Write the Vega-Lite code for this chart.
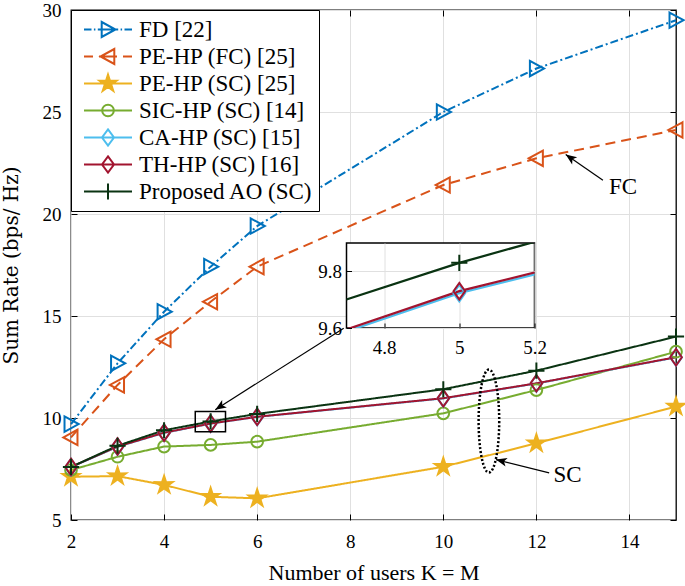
{
  "$schema": "https://vega.github.io/schema/vega-lite/v6.json",
  "background": "white",
  "padding": {"left": 0, "top": 0, "right": 0, "bottom": 0},
  "bounds": "flush",
  "align": "none",
  "spacing": -329.5,
  "datasets": {
    "series": [
      {"s": "FD [22]", "x": 2, "y": 9.7}, {"s": "FD [22]", "x": 3, "y": 12.68}, {"s": "FD [22]", "x": 4, "y": 15.21}, {"s": "FD [22]", "x": 5, "y": 17.42}, {"s": "FD [22]", "x": 6, "y": 19.41}, {"s": "FD [22]", "x": 10, "y": 25.0}, {"s": "FD [22]", "x": 12, "y": 27.13}, {"s": "FD [22]", "x": 15, "y": 29.5},
      {"s": "PE-HP (FC) [25]", "x": 2, "y": 9.05}, {"s": "PE-HP (FC) [25]", "x": 3, "y": 11.62}, {"s": "PE-HP (FC) [25]", "x": 4, "y": 13.86}, {"s": "PE-HP (FC) [25]", "x": 5, "y": 15.7}, {"s": "PE-HP (FC) [25]", "x": 6, "y": 17.42}, {"s": "PE-HP (FC) [25]", "x": 10, "y": 21.42}, {"s": "PE-HP (FC) [25]", "x": 12, "y": 22.73}, {"s": "PE-HP (FC) [25]", "x": 15, "y": 24.12},
      {"s": "PE-HP (SC) [25]", "x": 2, "y": 7.12}, {"s": "PE-HP (SC) [25]", "x": 3, "y": 7.15}, {"s": "PE-HP (SC) [25]", "x": 4, "y": 6.72}, {"s": "PE-HP (SC) [25]", "x": 5, "y": 6.14}, {"s": "PE-HP (SC) [25]", "x": 6, "y": 6.06}, {"s": "PE-HP (SC) [25]", "x": 10, "y": 7.61}, {"s": "PE-HP (SC) [25]", "x": 12, "y": 8.76}, {"s": "PE-HP (SC) [25]", "x": 15, "y": 10.56},
      {"s": "SIC-HP (SC) [14]", "x": 2, "y": 7.45}, {"s": "SIC-HP (SC) [14]", "x": 3, "y": 8.1}, {"s": "SIC-HP (SC) [14]", "x": 4, "y": 8.6}, {"s": "SIC-HP (SC) [14]", "x": 5, "y": 8.68}, {"s": "SIC-HP (SC) [14]", "x": 6, "y": 8.84}, {"s": "SIC-HP (SC) [14]", "x": 10, "y": 10.23}, {"s": "SIC-HP (SC) [14]", "x": 12, "y": 11.37}, {"s": "SIC-HP (SC) [14]", "x": 15, "y": 13.25},
      {"s": "CA-HP (SC) [15]", "x": 2, "y": 7.59}, {"s": "CA-HP (SC) [15]", "x": 3, "y": 8.59}, {"s": "CA-HP (SC) [15]", "x": 4, "y": 9.272}, {"s": "CA-HP (SC) [15]", "x": 5, "y": 9.723}, {"s": "CA-HP (SC) [15]", "x": 6, "y": 10.053}, {"s": "CA-HP (SC) [15]", "x": 10, "y": 10.96}, {"s": "CA-HP (SC) [15]", "x": 12, "y": 11.69}, {"s": "CA-HP (SC) [15]", "x": 15, "y": 12.97},
      {"s": "TH-HP (SC) [16]", "x": 2, "y": 7.6}, {"s": "TH-HP (SC) [16]", "x": 3, "y": 8.6}, {"s": "TH-HP (SC) [16]", "x": 4, "y": 9.28}, {"s": "TH-HP (SC) [16]", "x": 5, "y": 9.73}, {"s": "TH-HP (SC) [16]", "x": 6, "y": 10.06}, {"s": "TH-HP (SC) [16]", "x": 10, "y": 10.97}, {"s": "TH-HP (SC) [16]", "x": 12, "y": 11.7}, {"s": "TH-HP (SC) [16]", "x": 15, "y": 12.98},
      {"s": "Proposed AO (SC)", "x": 2, "y": 7.6}, {"s": "Proposed AO (SC)", "x": 3, "y": 8.64}, {"s": "Proposed AO (SC)", "x": 4, "y": 9.4}, {"s": "Proposed AO (SC)", "x": 5, "y": 9.83}, {"s": "Proposed AO (SC)", "x": 6, "y": 10.2}, {"s": "Proposed AO (SC)", "x": 10, "y": 11.41}, {"s": "Proposed AO (SC)", "x": 12, "y": 12.32}, {"s": "Proposed AO (SC)", "x": 15, "y": 13.99}
    ],
    "arrows": [
      {"x": 13.43, "y": 21.65, "x2": 12.63, "y2": 22.92, "a": 305.3},
      {"x": 12.275, "y": 7.31, "x2": 11.13, "y2": 7.96, "a": 284},
      {"x": 7.86, "y": 14.4, "x2": 5.1, "y2": 10.41, "a": 237.4}
    ],
    "labels": [
      {"x": 13.86, "y": 21.33, "t": "FC"},
      {"x": 12.67, "y": 7.22, "t": "SC"}
    ],
    "ellipse": [{"x": 10.98, "y": 9.85}],
    "box": [{"x": 4.67, "x2": 5.32, "y": 9.32, "y2": 10.32}]
  },
  "hconcat": [
    {
      "width": 605,
      "height": 510,
      "view": {"stroke": "black", "strokeWidth": 1.3, "fill": "white"},
      "layer": [
        {
          "data": {"name": "series"},
          "mark": {"type": "line", "strokeWidth": 2},
          "encoding": {
            "x": {"field": "x", "type": "quantitative", "scale": {"domain": [2, 15], "nice": false, "zero": false},
              "axis": {"orient": "bottom", "values": [2, 4, 6, 8, 10, 12, 14], "grid": true, "tickSize": -6, "labelFontSize": 19, "labelPadding": 18, "format": "d", "title": "Number of users K = M", "titleFont": "Liberation Serif", "titleFontSize": 22, "titlePadding": 11}},
            "y": {"field": "y", "type": "quantitative", "scale": {"domain": [5, 30], "nice": false, "zero": false},
              "axis": {"orient": "left", "values": [5, 10, 15, 20, 25, 30], "grid": true, "tickSize": -6, "labelFontSize": 19, "labelPadding": 16, "format": "d", "title": "Sum Rate (bps/ Hz)", "titleFont": "DejaVu Serif", "titleFontSize": 20, "titlePadding": 21}},
            "color": {"field": "s", "type": "nominal", "legend": null,
              "scale": {"domain": ["FD [22]", "PE-HP (FC) [25]", "PE-HP (SC) [25]", "SIC-HP (SC) [14]", "CA-HP (SC) [15]", "TH-HP (SC) [16]", "Proposed AO (SC)"],
                "range": ["#0072BD", "#D95319", "#EDB120", "#77AC30", "#4DBEEE", "#A2142F", "#0A3312"]}},
            "strokeDash": {"field": "s", "type": "nominal", "legend": null,
              "scale": {"domain": ["FD [22]", "PE-HP (FC) [25]", "PE-HP (SC) [25]", "SIC-HP (SC) [14]", "CA-HP (SC) [15]", "TH-HP (SC) [16]", "Proposed AO (SC)"],
                "range": [[8, 3, 2, 3], [10, 6], [1, 0], [1, 0], [1, 0], [1, 0], [1, 0]]}}
          }
        },
        {
          "data": {"name": "series"},
          "mark": {"type": "point", "size": 324, "strokeWidth": 2, "opacity": 1},
          "encoding": {
            "x": {"field": "x", "type": "quantitative", "axis": {"orient": "top", "values": [2, 4, 6, 8, 10, 12, 14], "grid": false, "labels": false, "tickSize": -6, "title": null}},
            "y": {"field": "y", "type": "quantitative", "axis": {"orient": "right", "values": [5, 10, 15, 20, 25, 30], "grid": false, "labels": false, "tickSize": -6, "title": null}},
            "stroke": {"field": "s", "type": "nominal", "legend": null,
              "scale": {"domain": ["FD [22]", "PE-HP (FC) [25]", "PE-HP (SC) [25]", "SIC-HP (SC) [14]", "CA-HP (SC) [15]", "TH-HP (SC) [16]", "Proposed AO (SC)"],
                "range": ["#0072BD", "#D95319", "#EDB120", "#77AC30", "#4DBEEE", "#A2142F", "#0A3312"]}},
            "fill": {"field": "s", "type": "nominal", "legend": null,
              "scale": {"domain": ["FD [22]", "PE-HP (FC) [25]", "PE-HP (SC) [25]", "SIC-HP (SC) [14]", "CA-HP (SC) [15]", "TH-HP (SC) [16]", "Proposed AO (SC)"],
                "range": ["transparent", "transparent", "#EDB120", "transparent", "transparent", "transparent", "transparent"]}},
            "shape": {"field": "s", "type": "nominal", "legend": null,
              "scale": {"domain": ["FD [22]", "PE-HP (FC) [25]", "PE-HP (SC) [25]", "SIC-HP (SC) [14]", "CA-HP (SC) [15]", "TH-HP (SC) [16]", "Proposed AO (SC)"],
                "range": [
                  "M-0.72,-0.85L0.85,0L-0.72,0.85Z",
                  "M0.72,-0.85L-0.85,0L0.72,0.85Z",
                  "M0,-1L0.223,-0.307L0.951,-0.309L0.361,0.117L0.588,0.809L0,0.38L-0.588,0.809L-0.361,0.117L-0.951,-0.309L-0.223,-0.307Z",
                  "M-0.65,0A0.65,0.65,0,1,1,0.65,0A0.65,0.65,0,1,1,-0.65,0Z",
                  "M0,-0.92L0.65,0L0,0.92L-0.65,0Z",
                  "M0,-0.92L0.65,0L0,0.92L-0.65,0Z",
                  "M-0.9,0L0.9,0M0,-0.9L0,0.9"
                ]}}
          }
        },
        {
          "data": {"name": "series"},
          "mark": {"type": "point", "size": 1, "strokeWidth": 2, "opacity": 0},
          "encoding": {
            "x": {"field": "x", "type": "quantitative", "axis": null},
            "y": {"field": "y", "type": "quantitative", "axis": null},
            "stroke": {"field": "s", "type": "nominal",
              "legend": {"title": null, "orient": "top-left", "offset": 0, "padding": 6, "strokeColor": "black", "fillColor": "white", "labelFont": "Liberation Serif", "labelFontSize": 23, "labelColor": "black", "symbolSize": 3600, "clipHeight": 27, "rowPadding": 0, "labelOffset": 0, "symbolStrokeWidth": 2, "symbolOpacity": 1, "symbolFillColor": "transparent", "labelLimit": 400},
              "scale": {"domain": ["FD [22]", "PE-HP (FC) [25]", "PE-HP (SC) [25]", "SIC-HP (SC) [14]", "CA-HP (SC) [15]", "TH-HP (SC) [16]", "Proposed AO (SC)"],
                "range": ["#0072BD", "#D95319", "#EDB120", "#77AC30", "#4DBEEE", "#A2142F", "#0A3312"]}},
            "fill": {"field": "s", "type": "nominal",
              "legend": {"title": null, "orient": "top-left", "offset": 0, "padding": 6, "strokeColor": "black", "fillColor": "white", "labelFont": "Liberation Serif", "labelFontSize": 23, "labelColor": "black", "symbolSize": 3600, "clipHeight": 27, "rowPadding": 0, "labelOffset": 0, "symbolStrokeWidth": 2, "symbolOpacity": 1, "symbolFillColor": "transparent", "labelLimit": 400},
              "scale": {"domain": ["FD [22]", "PE-HP (FC) [25]", "PE-HP (SC) [25]", "SIC-HP (SC) [14]", "CA-HP (SC) [15]", "TH-HP (SC) [16]", "Proposed AO (SC)"],
                "range": ["transparent", "transparent", "#EDB120", "transparent", "transparent", "transparent", "transparent"]}},
            "shape": {"field": "s", "type": "nominal",
              "legend": {"title": null, "orient": "top-left", "offset": 0, "padding": 6, "strokeColor": "black", "fillColor": "white", "labelFont": "Liberation Serif", "labelFontSize": 23, "labelColor": "black", "symbolSize": 3600, "clipHeight": 27, "rowPadding": 0, "labelOffset": 0, "symbolStrokeWidth": 2, "symbolOpacity": 1, "symbolFillColor": "transparent", "labelLimit": 400},
              "scale": {"domain": ["FD [22]", "PE-HP (FC) [25]", "PE-HP (SC) [25]", "SIC-HP (SC) [14]", "CA-HP (SC) [15]", "TH-HP (SC) [16]", "Proposed AO (SC)"],
                "range": [
                  "M-0.8,0L-0.55,0M-0.47,0L-0.42,0M-0.34,0L0.34,0M0.42,0L0.47,0M0.55,0L0.8,0M-0.21,-0.25L0.25,0L-0.21,0.25Z",
                  "M-0.8,0L-0.5,0M-0.3,0L0.3,0M0.5,0L0.8,0M0.21,-0.25L-0.25,0L0.21,0.25Z",
                  "M-0.8,0L0.8,0M0,-0.3L0.067,-0.092L0.285,-0.093L0.108,0.035L0.176,0.243L0,0.114L-0.176,0.243L-0.108,0.035L-0.285,-0.093L-0.067,-0.092Z",
                  "M-0.8,0L0.8,0M-0.195,0A0.195,0.195,0,1,1,0.195,0A0.195,0.195,0,1,1,-0.195,0Z",
                  "M-0.8,0L0.8,0M0,-0.27L0.2,0L0,0.27L-0.2,0Z",
                  "M-0.8,0L0.8,0M0,-0.27L0.2,0L0,0.27L-0.2,0Z",
                  "M-0.8,0L0.8,0M0,-0.27L0,0.27"
                ]}}
          }
        },
        {
          "data": {"name": "arrows"},
          "mark": {"type": "rule", "color": "black", "strokeWidth": 1.2},
          "encoding": {
            "x": {"field": "x", "type": "quantitative", "axis": null},
            "y": {"field": "y", "type": "quantitative", "axis": null},
            "x2": {"field": "x2"},
            "y2": {"field": "y2"}
          }
        },
        {
          "data": {"name": "arrows"},
          "mark": {"type": "point", "shape": "M0,0L0.4,1L0,0.75L-0.4,1Z", "size": 484, "filled": true, "color": "black", "opacity": 1, "strokeWidth": 0},
          "encoding": {
            "x": {"field": "x2", "type": "quantitative", "axis": null},
            "y": {"field": "y2", "type": "quantitative", "axis": null},
            "angle": {"field": "a", "type": "quantitative", "scale": null}
          }
        },
        {
          "data": {"name": "labels"},
          "mark": {"type": "text", "font": "Liberation Serif", "fontSize": 23, "color": "black", "align": "center", "baseline": "middle"},
          "encoding": {
            "x": {"field": "x", "type": "quantitative", "axis": null},
            "y": {"field": "y", "type": "quantitative", "axis": null},
            "text": {"field": "t"}
          }
        },
        {
          "data": {"name": "ellipse"},
          "mark": {"type": "point", "shape": "M0,-1A0.2,1,0,1,0,0,1A0.2,1,0,1,0,0,-1Z", "size": 10609, "filled": false, "color": "black", "opacity": 1, "strokeWidth": 2.5, "strokeDash": [2, 2]},
          "encoding": {
            "x": {"field": "x", "type": "quantitative", "axis": null},
            "y": {"field": "y", "type": "quantitative", "axis": null}
          }
        },
        {
          "data": {"name": "box"},
          "mark": {"type": "rect", "fill": "transparent", "stroke": "black", "strokeWidth": 1.5},
          "encoding": {
            "x": {"field": "x", "type": "quantitative", "axis": null},
            "x2": {"field": "x2"},
            "y": {"field": "y", "type": "quantitative", "axis": null},
            "y2": {"field": "y2"}
          }
        }
      ],
      "resolve": {
        "scale": {"stroke": "independent", "fill": "independent", "shape": "independent"},
        "axis": {"x": "independent", "y": "independent"}
      }
    },
    {
      "bounds": "flush",
      "spacing": 0,
      "vconcat": [
        {
          "width": 188,
          "height": 233,
          "view": {"stroke": null, "fill": null},
          "data": {"values": [{}]},
          "mark": {"type": "point", "opacity": 0},
          "encoding": {}
        },
        {
          "width": 188,
          "height": 85,
          "view": {"stroke": "black", "strokeWidth": 1.5, "fill": "white"},
          "data": {"name": "series"},
          "transform": [{"filter": {"field": "s", "oneOf": ["CA-HP (SC) [15]", "TH-HP (SC) [16]", "Proposed AO (SC)"]}}],
          "layer": [
            {
              "mark": {"type": "line", "strokeWidth": 2.2, "clip": true},
              "encoding": {
                "x": {"field": "x", "type": "quantitative", "scale": {"domain": [4.7, 5.2], "nice": false, "zero": false},
                  "axis": {"values": [4.8, 5, 5.2], "grid": true, "tickSize": -5, "labelFontSize": 19, "labelPadding": 15, "format": "~g", "title": null}},
                "y": {"field": "y", "type": "quantitative", "scale": {"domain": [9.6, 9.9], "nice": false, "zero": false},
                  "axis": {"values": [9.6, 9.8], "grid": true, "tickSize": -5, "labelFontSize": 19, "labelPadding": 10, "format": "~g", "title": null}},
                "color": {"field": "s", "type": "nominal", "legend": null,
                  "scale": {"domain": ["CA-HP (SC) [15]", "TH-HP (SC) [16]", "Proposed AO (SC)"], "range": ["#4DBEEE", "#A2142F", "#0A3312"]}}
              }
            },
            {
              "mark": {"type": "point", "size": 324, "strokeWidth": 2, "opacity": 1, "filled": false, "clip": true},
              "encoding": {
                "x": {"field": "x", "type": "quantitative"},
                "y": {"field": "y", "type": "quantitative"},
                "color": {"field": "s", "type": "nominal", "legend": null},
                "shape": {"field": "s", "type": "nominal", "legend": null,
                  "scale": {"domain": ["CA-HP (SC) [15]", "TH-HP (SC) [16]", "Proposed AO (SC)"],
                    "range": ["M0,-0.92L0.65,0L0,0.92L-0.65,0Z", "M0,-0.92L0.65,0L0,0.92L-0.65,0Z", "M-0.9,0L0.9,0M0,-0.9L0,0.9"]}}
              }
            }
          ]
        }
      ]
    }
  ],
  "config": {
    "font": "Liberation Serif",
    "axis": {"labelFont": "Liberation Serif", "labelColor": "black", "tickColor": "black", "domain": false, "labelFlush": false, "labelOverlap": false, "gridColor": "#e0e0e0", "gridWidth": 1, "titleColor": "black", "titleFontWeight": "normal"}
  }
}
